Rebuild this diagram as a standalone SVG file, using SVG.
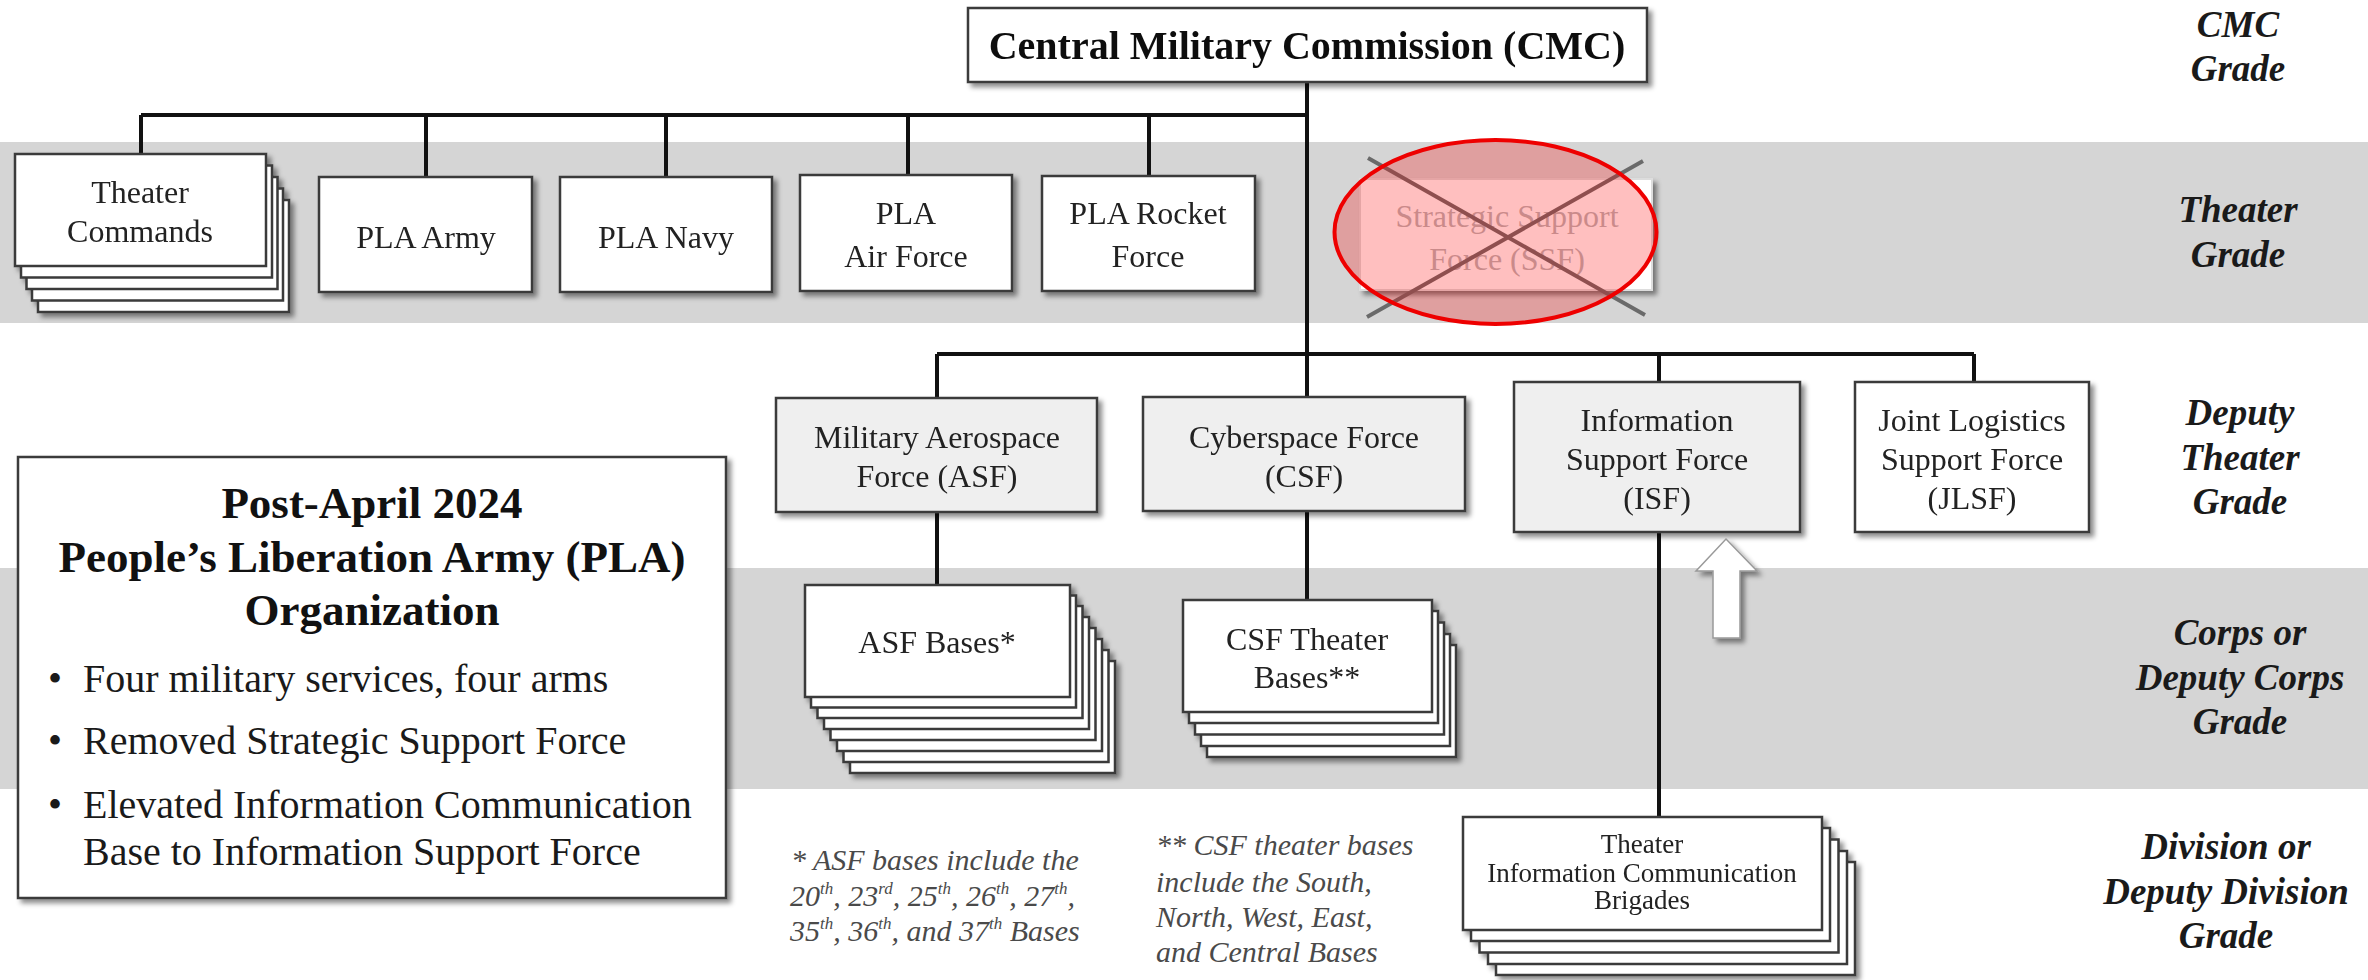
<svg xmlns="http://www.w3.org/2000/svg" width="2368" height="980" viewBox="0 0 2368 980">
<defs>
<style>
.bx{fill:#fff;stroke:#3a3a3a;stroke-width:2.5}
.bg{fill:#efefef;stroke:#3a3a3a;stroke-width:2.5}
.t{font-family:"Liberation Serif","Times New Roman",serif;font-size:32px;fill:#222;text-anchor:middle}
.gr{font-family:"Liberation Serif","Times New Roman",serif;font-style:italic;font-weight:bold;font-size:37px;fill:#1a1a1a;text-anchor:middle}
.ln{stroke:#111;stroke-width:4;fill:none}
.fn{font-family:"Liberation Serif","Times New Roman",serif;font-style:italic;font-size:30px;fill:#4a4a4a}
.lg{font-family:"Liberation Serif","Times New Roman",serif;font-size:40px;fill:#1a1a1a}
.lt{font-family:"Liberation Serif","Times New Roman",serif;font-size:45px;font-weight:bold;fill:#111;text-anchor:middle}
.band{fill:#d5d5d5}
</style>
<filter id="sh" x="-10%" y="-10%" width="130%" height="140%">
<feDropShadow dx="4" dy="4" stdDeviation="2.5" flood-color="#000" flood-opacity="0.45"/>
</filter>
</defs>
<rect width="2368" height="980" fill="#fff"/>
<rect class="band" x="0" y="142" width="2368" height="181"/>
<rect class="band" x="0" y="568" width="2368" height="221"/>

<g id="connectors">
<path class="ln" d="M1307 82 V397 M141 115 H1307 M141 115 V154 M426 115 V177 M666 115 V177 M908 115 V175 M1149 115 V176"/>
<path class="ln" d="M937 354 H1974 M937 354 V398 M1659 354 V382 M1974 354 V382"/>
<path class="ln" d="M937 512 V585 M1307 511 V600 M1659 532 V817"/>
</g>

<g id="cmc" filter="url(#sh)">
<rect class="bx" x="968" y="8" width="679" height="74"/>
<text class="t" x="1307" y="59" style="font-size:40px;font-weight:bold;fill:#111">Central Military Commission (CMC)</text>
</g>

<g id="theater-commands" filter="url(#sh)">
<rect class="bx" x="38" y="200" width="251" height="112"/>
<rect class="bx" x="32" y="188.5" width="251" height="112"/>
<rect class="bx" x="26.5" y="177" width="251" height="112"/>
<rect class="bx" x="21" y="165.5" width="251" height="112"/>
<rect class="bx" x="15" y="154" width="251" height="112"/>
<text class="t" x="140" y="203">Theater</text>
<text class="t" x="140" y="242">Commands</text>
</g>

<g id="pla-army" filter="url(#sh)">
<rect class="bx" x="319" y="177" width="213" height="115"/>
<text class="t" x="426" y="248">PLA Army</text>
</g>
<g id="pla-navy" filter="url(#sh)">
<rect class="bx" x="560" y="177" width="212" height="115"/>
<text class="t" x="666" y="248">PLA Navy</text>
</g>
<g id="pla-air-force" filter="url(#sh)">
<rect class="bx" x="800" y="175" width="212" height="116"/>
<text class="t" x="906" y="224">PLA</text>
<text class="t" x="906" y="267">Air Force</text>
</g>
<g id="pla-rocket-force" filter="url(#sh)">
<rect class="bx" x="1042" y="176" width="213" height="115"/>
<text class="t" x="1148" y="224">PLA Rocket</text>
<text class="t" x="1148" y="267">Force</text>
</g>

<g id="ssf">
<rect x="1360" y="179" width="292" height="111" fill="#fff" stroke="#ddd" stroke-width="2" filter="url(#sh)"/>
<text class="t" x="1507" y="227" style="fill:#b8b8b8">Strategic Support</text>
<text class="t" x="1507" y="270" style="fill:#b8b8b8">Force (SSF)</text>
<path d="M1368 158 L1645 315 M1643 161 L1367 317" stroke="#6a6a6a" stroke-width="4" fill="none"/>
<ellipse cx="1495.5" cy="232" rx="161" ry="92" fill="#ff0000" fill-opacity="0.25" stroke="#ee0000" stroke-width="4"/>
</g>

<g id="asf" filter="url(#sh)">
<rect class="bg" x="776" y="398" width="321" height="114"/>
<text class="t" x="937" y="448">Military Aerospace</text>
<text class="t" x="937" y="487">Force (ASF)</text>
</g>
<g id="csf" filter="url(#sh)">
<rect class="bg" x="1143" y="397" width="322" height="114"/>
<text class="t" x="1304" y="448">Cyberspace Force</text>
<text class="t" x="1304" y="487">(CSF)</text>
</g>
<g id="isf" filter="url(#sh)">
<rect class="bg" x="1514" y="382" width="286" height="150"/>
<text class="t" x="1657" y="431">Information</text>
<text class="t" x="1657" y="470">Support Force</text>
<text class="t" x="1657" y="509">(ISF)</text>
</g>
<g id="jlsf" filter="url(#sh)">
<rect class="bx" x="1855" y="382" width="234" height="150"/>
<text class="t" x="1972" y="431">Joint Logistics</text>
<text class="t" x="1972" y="470">Support Force</text>
<text class="t" x="1972" y="509">(JLSF)</text>
</g>

<g id="asf-bases" filter="url(#sh)">
<rect class="bx" x="850" y="661" width="265" height="112"/>
<rect class="bx" x="843.5" y="650" width="265" height="112"/>
<rect class="bx" x="837" y="639" width="265" height="112"/>
<rect class="bx" x="830.5" y="628" width="265" height="112"/>
<rect class="bx" x="824" y="617" width="265" height="112"/>
<rect class="bx" x="817.5" y="606" width="265" height="112"/>
<rect class="bx" x="811" y="595.5" width="265" height="112"/>
<rect class="bx" x="805" y="585" width="265" height="112"/>
<text class="t" x="937" y="653">ASF Bases*</text>
</g>

<g id="csf-bases" filter="url(#sh)">
<rect class="bx" x="1207" y="645" width="249" height="112"/>
<rect class="bx" x="1201" y="634" width="249" height="112"/>
<rect class="bx" x="1195" y="622.5" width="249" height="112"/>
<rect class="bx" x="1189" y="611" width="249" height="112"/>
<rect class="bx" x="1183" y="600" width="249" height="112"/>
<text class="t" x="1307" y="650">CSF Theater</text>
<text class="t" x="1307" y="688">Bases**</text>
</g>

<g id="brigades" filter="url(#sh)">
<rect class="bx" x="1496" y="862" width="359" height="113"/>
<rect class="bx" x="1488" y="851" width="359" height="113"/>
<rect class="bx" x="1479.5" y="839.5" width="359" height="113"/>
<rect class="bx" x="1471" y="828" width="359" height="113"/>
<rect class="bx" x="1463" y="817" width="359" height="113"/>
<text class="t" x="1642" y="853" style="font-size:27px">Theater</text>
<text class="t" x="1642" y="882" style="font-size:27px">Information Communication</text>
<text class="t" x="1642" y="909" style="font-size:27px">Brigades</text>
</g>

<g id="elevate-arrow" filter="url(#sh)">
<polygon points="1726,539 1757,571 1740,571 1740,638 1713,638 1713,571 1696,571" fill="#fff" stroke="#999" stroke-width="1.5"/>
</g>

<g id="legend">
<rect class="bx" x="18" y="457" width="708" height="441" filter="url(#sh)"/>
<text class="lt" x="372" y="518">Post-April 2024</text>
<text class="lt" x="372" y="572">People’s Liberation Army (PLA)</text>
<text class="lt" x="372" y="625">Organization</text>
<text class="lg" x="48" y="692">•</text>
<text class="lg" x="83" y="692">Four military services, four arms</text>
<text class="lg" x="48" y="754">•</text>
<text class="lg" x="83" y="754">Removed Strategic Support Force</text>
<text class="lg" x="48" y="818">•</text>
<text class="lg" x="83" y="818">Elevated Information Communication</text>
<text class="lg" x="83" y="865">Base to Information Support Force</text>
</g>

<g id="asf-note">
<text class="fn" x="791" y="870">* ASF bases include the</text>
<text class="fn" x="790" y="906">20<tspan font-size="17" dy="-12">th</tspan><tspan dy="12">, 23</tspan><tspan font-size="17" dy="-12">rd</tspan><tspan dy="12">, 25</tspan><tspan font-size="17" dy="-12">th</tspan><tspan dy="12">, 26</tspan><tspan font-size="17" dy="-12">th</tspan><tspan dy="12">, 27</tspan><tspan font-size="17" dy="-12">th</tspan><tspan dy="12">,</tspan></text>
<text class="fn" x="790" y="941">35<tspan font-size="17" dy="-12">th</tspan><tspan dy="12">, 36</tspan><tspan font-size="17" dy="-12">th</tspan><tspan dy="12">, and 37</tspan><tspan font-size="17" dy="-12">th</tspan><tspan dy="12"> Bases</tspan></text>
</g>
<g id="csf-note">
<text class="fn" x="1156" y="855">** CSF theater bases</text>
<text class="fn" x="1156" y="892">include the South,</text>
<text class="fn" x="1156" y="927">North, West, East,</text>
<text class="fn" x="1156" y="962">and Central Bases</text>
</g>

<g id="grades">
<text class="gr" x="2238" y="37">CMC</text>
<text class="gr" x="2238" y="81">Grade</text>
<text class="gr" x="2238" y="222">Theater</text>
<text class="gr" x="2238" y="267">Grade</text>
<text class="gr" x="2240" y="425">Deputy</text>
<text class="gr" x="2240" y="470">Theater</text>
<text class="gr" x="2240" y="514">Grade</text>
<text class="gr" x="2240" y="645">Corps or</text>
<text class="gr" x="2240" y="690">Deputy Corps</text>
<text class="gr" x="2240" y="734">Grade</text>
<text class="gr" x="2226" y="859">Division or</text>
<text class="gr" x="2226" y="904">Deputy Division</text>
<text class="gr" x="2226" y="948">Grade</text>
</g>
</svg>
